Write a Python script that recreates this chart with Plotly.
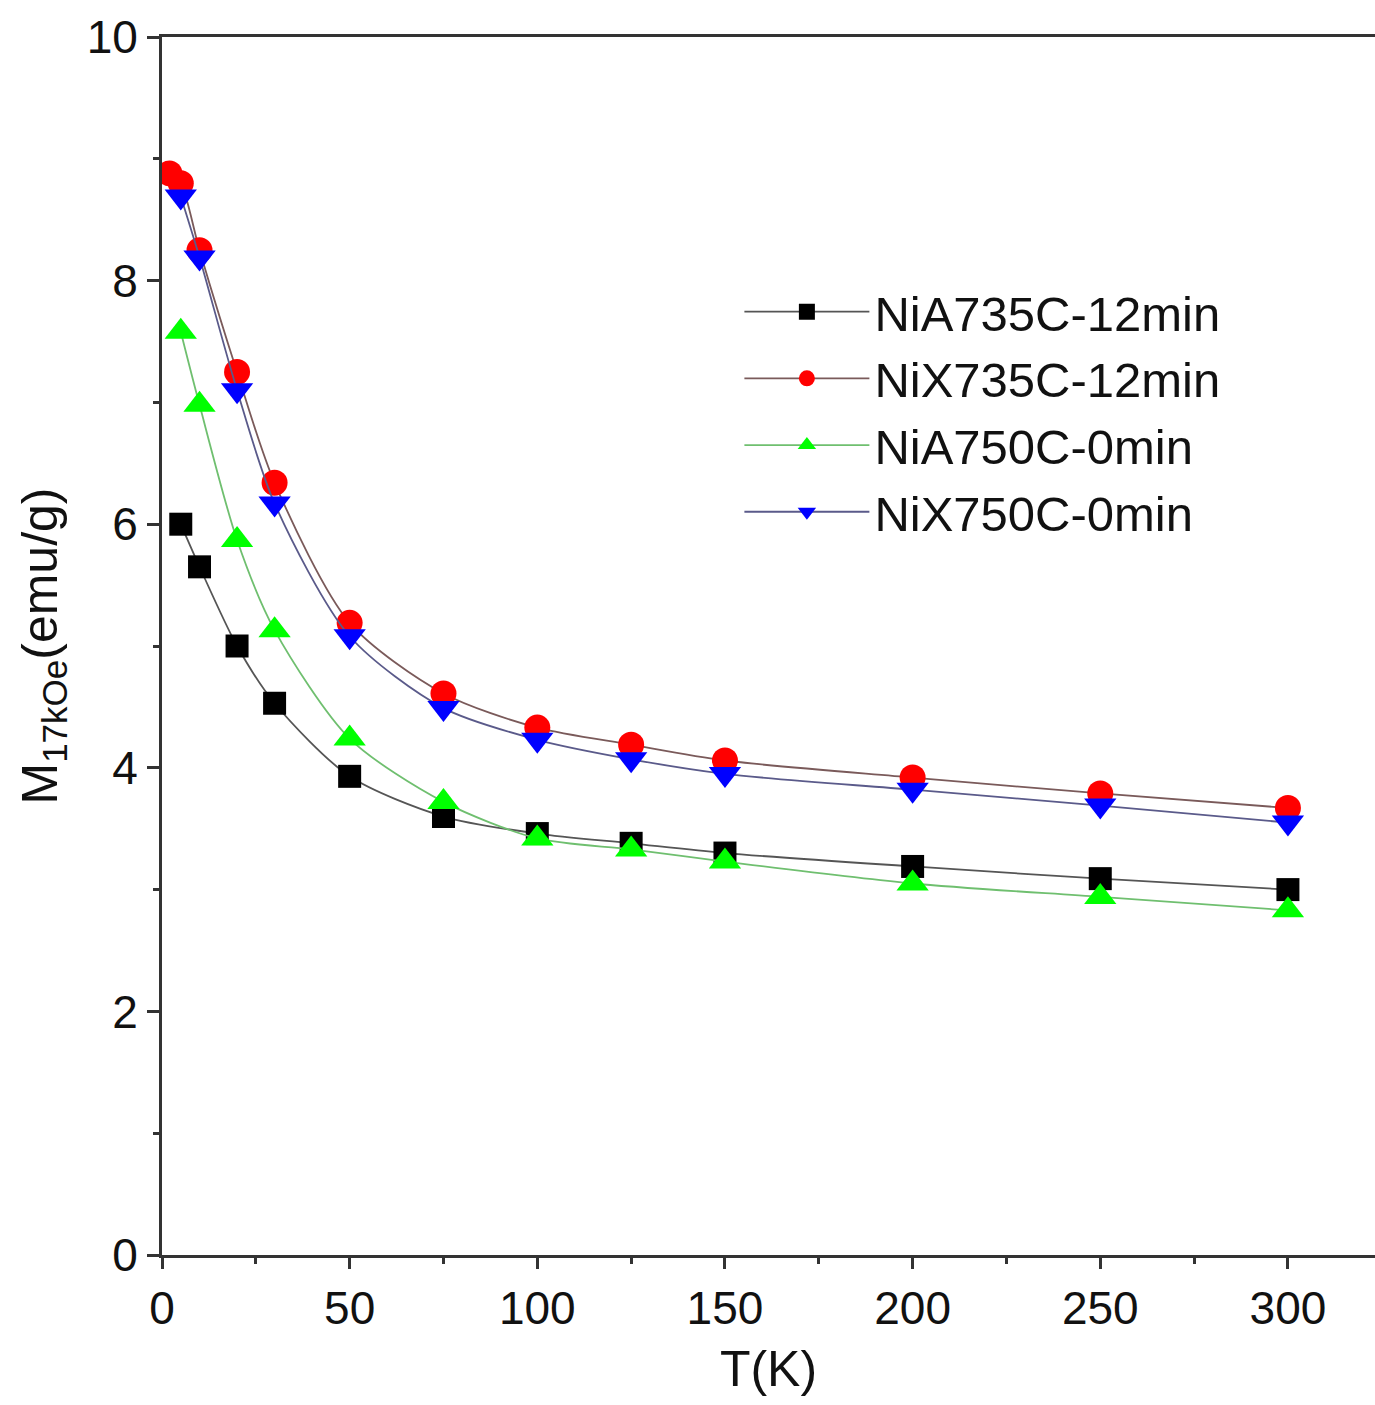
import plotly.graph_objects as go

T = [5, 10, 20, 30, 50, 75, 100, 125, 150, 200, 250, 300]
T_red = [2, 5, 10, 20, 30, 50, 75, 100, 125, 150, 200, 250, 300]

nia735 = [6.00, 5.65, 5.00, 4.53, 3.93, 3.60, 3.46, 3.38, 3.30, 3.19, 3.09, 3.00]
nix735 = [8.88, 8.80, 8.25, 7.25, 6.34, 5.19, 4.61, 4.33, 4.19, 4.06, 3.92, 3.79, 3.67]
nia750 = [7.58, 6.98, 5.87, 5.13, 4.24, 3.72, 3.42, 3.33, 3.23, 3.05, 2.94, 2.83]
nix750 = [8.69, 8.19, 7.10, 6.17, 5.08, 4.49, 4.23, 4.07, 3.95, 3.82, 3.69, 3.55]

names = ["NiA735C-12min", "NiX735C-12min", "NiA750C-0min", "NiX750C-0min"]

FONT = "Liberation Sans, Arial, sans-serif"

fig = go.Figure()
series = [
    (T, nia735, names[0], "square", "#000000", "#555555", 23),
    (T_red, nix735, names[1], "circle", "#ff0000", "#7a5a5a", 26),
    (T, nia750, names[2], "triangle-up", "#00ff00", "#6fbf6f", 28),
    (T, nix750, names[3], "triangle-down", "#0000ff", "#5a5a8a", 28),
]
for x, y, name, sym, mc, lc, sz in series:
    fig.add_trace(go.Scatter(
        x=x, y=y, name=name, mode="lines+markers",
        line=dict(color=lc, width=1.8, shape="spline", smoothing=0.8),
        marker=dict(symbol=sym, color=mc, size=sz, line=dict(width=0)),
    ))

fig.update_layout(
    width=1375, height=1405,
    margin=dict(l=162, r=0, t=37, b=150),
    paper_bgcolor="white", plot_bgcolor="white",
    font=dict(family=FONT, size=46, color="#111"),
    showlegend=True,
    legend=dict(
        x=0.476, y=0.806, xanchor="left", yanchor="top",
        font=dict(family=FONT, size=49, color="#111"),
        bgcolor="rgba(0,0,0,0)", itemwidth=125, tracegroupgap=0,
    ),
    xaxis=dict(
        range=[0, 323.2], tickvals=[0, 50, 100, 150, 200, 250, 300],
        showgrid=False, zeroline=False,
        showline=True, linecolor="#333", linewidth=3, mirror=True,
        ticks="outside", ticklen=11, tickwidth=2.5, tickcolor="#333",
        minor=dict(tickvals=[25, 75, 125, 175, 225, 275, 325], ticks="outside",
                   ticklen=6, tickwidth=2.5, tickcolor="#333"),
        tickfont=dict(family=FONT, size=46, color="#111"),
        title=dict(text="T(K)", font=dict(family=FONT, size=50, color="#111"), standoff=18),
    ),
    yaxis=dict(
        range=[0, 10], tickvals=[0, 2, 4, 6, 8, 10],
        showgrid=False, zeroline=False,
        showline=True, linecolor="#333", linewidth=3,
        ticks="outside", ticklen=12, tickwidth=2.5, tickcolor="#333",
        minor=dict(tickvals=[1, 3, 5, 7, 9], ticks="outside",
                   ticklen=6, tickwidth=2.5, tickcolor="#333"),
        tickfont=dict(family=FONT, size=46, color="#111"),
        title=dict(text="M<sub>17kOe</sub>(emu/g)", font=dict(family=FONT, size=50, color="#111"), standoff=14),
    ),
)

fig.write_html("out.html")
